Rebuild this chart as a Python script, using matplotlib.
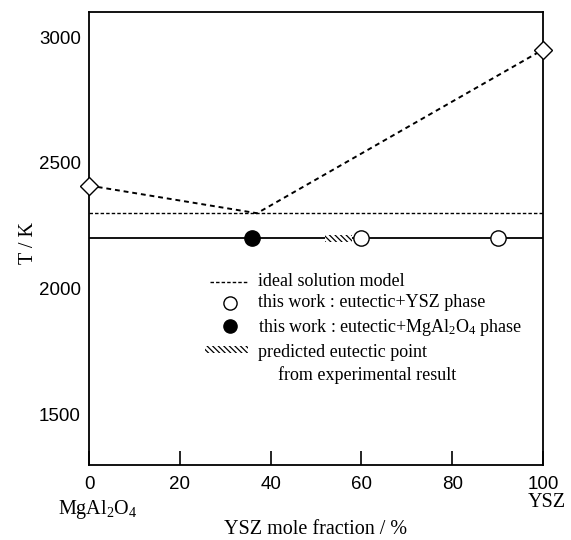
import matplotlib.pyplot as plt
from matplotlib.patches import Rectangle

plt.rcParams["mathtext.default"] = "regular"
plt.rcParams["hatch.linewidth"] = 0.9

# liquidus lines (ideal solution model)
liq_x = [0, 37, 100]
liq_T = [2410, 2300, 2950]
# end-member melting points
melt_x = [0, 100]
melt_T = [2410, 2950]
# eutectic temperatures
T_ideal = 2300
T_eut = 2200
# experimental points
open_x = [60, 90]
open_T = [2200, 2200]
filled_x = [36]
filled_T = [2200]
# predicted eutectic range
pred_x = [52, 58]

xticks = [0, 20, 40, 60, 80, 100]
yticks = [1500, 2000, 2500, 3000]

serif = "Liberation Serif"
sans = "Liberation Sans"

fig = plt.figure(figsize=(5.71, 5.40), dpi=100)
ax = fig.add_axes([0.156, 0.139, 0.795, 0.839])

ax.plot(liq_x, liq_T, color="black", ls=(0, (2.5, 2)), lw=1.4)
ax.plot([0, 100], [T_ideal, T_ideal], color="black", ls=(0, (2.5, 1.5)), lw=1.0)
ax.plot([0, 100], [T_eut, T_eut], color="black", ls="-", lw=1.3)

ax.add_patch(Rectangle((pred_x[0], T_eut - 14), pred_x[1] - pred_x[0], 28,
                       facecolor="white", edgecolor="black", hatch="\\\\\\\\\\\\", lw=0, zorder=3))

ax.plot(melt_x, melt_T, ls="none", marker="D", ms=9, mfc="white", mec="black",
        mew=1.0, clip_on=False, zorder=5)
ax.plot(open_x, open_T, ls="none", marker="o", ms=11, mfc="white", mec="black",
        mew=1.0, zorder=5)
ax.plot(filled_x, filled_T, ls="none", marker="o", ms=11, mfc="black", mec="black",
        zorder=5)

# legend drawn by hand
tr = ax.transAxes
ax.plot([0.267, 0.350], [0.404, 0.404], transform=tr, color="black", ls=(0, (2.5, 1.5)), lw=1.0)
ax.plot([0.311], [0.358], transform=tr, ls="none", marker="o", ms=9.5, mfc="white", mec="black", mew=1.0)
ax.plot([0.311], [0.307], transform=tr, ls="none", marker="o", ms=9.5, mfc="black", mec="black")
ax.add_patch(Rectangle((0.256, 0.247), 0.094, 0.015, transform=tr, facecolor="white",
                       edgecolor="black", hatch="\\\\\\\\\\\\", lw=0))
kw = dict(transform=tr, family=serif, fontsize=13, va="center", ha="left")
ax.text(0.372, 0.405, "ideal solution model", **kw)
ax.text(0.372, 0.358, "this work : eutectic+YSZ phase", **kw)
ax.text(0.372, 0.303, r"this work : eutectic+MgAl$_2$O$_4$ phase", **kw)
ax.text(0.372, 0.249, "predicted eutectic point", **kw)
ax.text(0.416, 0.198, "from experimental result", **kw)

ax.set_xlim(0, 100)
ax.set_ylim(1300, 3100)
ax.set_xticks(xticks)
ax.set_yticks(yticks)
ax.tick_params(axis="x", direction="in", length=10, width=1.2, pad=8, labelsize=13.5)
ax.tick_params(axis="y", length=0, pad=6, labelsize=13.5)
for lab in ax.get_xticklabels() + ax.get_yticklabels():
    lab.set_family(sans)
for sp in ax.spines.values():
    sp.set_linewidth(1.3)

xt = ax.get_xaxis_transform()
ax.text(1.8, -0.098, r"MgAl$_2$O$_4$", transform=xt, family=serif,
        fontsize=14.5, ha="center", va="center")
ax.text(100.9, -0.084, "YSZ", transform=xt, family=serif,
        fontsize=14.5, ha="center", va="center")
ax.text(0.498, -0.143, "YSZ mole fraction / %", transform=tr, family=serif,
        fontsize=14.5, ha="center", va="center")
ax.text(-0.134, 0.49, "T / K", transform=tr, family=serif, rotation=90,
        fontsize=14.5, ha="center", va="center")

fig.savefig("out.png", dpi=100)
